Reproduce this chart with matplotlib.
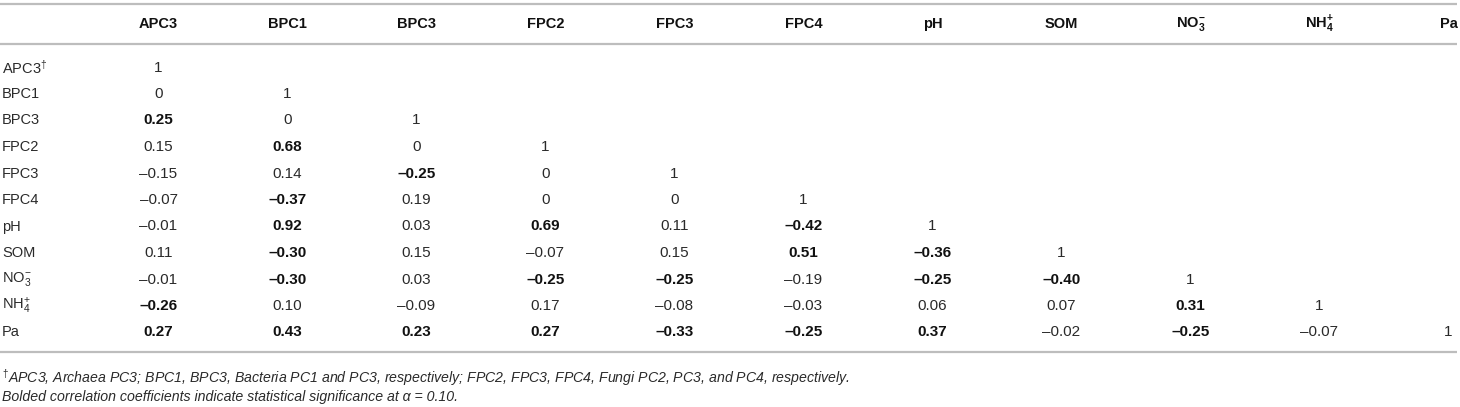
import matplotlib
matplotlib.use("Agg")
import matplotlib.pyplot as plt

plt.rcParams['font.family'] = ['Liberation Sans', 'DejaVu Sans']
plt.rcParams['mathtext.fontset'] = 'custom'
plt.rcParams['mathtext.rm'] = 'Liberation Sans'
plt.rcParams['mathtext.it'] = 'Liberation Sans:italic'
plt.rcParams['mathtext.bf'] = 'Liberation Sans:bold'
plt.rcParams['mathtext.sf'] = 'Liberation Sans'

# ---- data ----
col_labels = ["APC3", "BPC1", "BPC3", "FPC2", "FPC3", "FPC4", "pH", "SOM",
              r"NO$_\mathbf{3}^{\mathbf{-}}$", r"NH$_\mathbf{4}^{\mathbf{+}}$", "Pa"]
row_labels = [r"APC3$^{\dagger}$", "BPC1", "BPC3", "FPC2", "FPC3", "FPC4", "pH", "SOM",
              r"NO$_3^{-}$", r"NH$_4^{+}$", "Pa"]

r_apc3 = [1]
r_bpc1 = [0, 1]
r_bpc3 = [0.25, 0, 1]
r_fpc2 = [0.15, 0.68, 0, 1]
r_fpc3 = [-0.15, 0.14, -0.25, 0, 1]
r_fpc4 = [-0.07, -0.37, 0.19, 0, 0, 1]
r_ph = [-0.01, 0.92, 0.03, 0.69, 0.11, -0.42, 1]
r_som = [0.11, -0.30, 0.15, -0.07, 0.15, 0.51, -0.36, 1]
r_no3 = [-0.01, -0.30, 0.03, -0.25, -0.25, -0.19, -0.25, -0.40, 1]
r_nh4 = [-0.26, 0.10, -0.09, 0.17, -0.08, -0.03, 0.06, 0.07, 0.31, 1]
r_pa = [0.27, 0.43, 0.23, 0.27, -0.33, -0.25, 0.37, -0.02, -0.25, -0.07, 1]
values = [r_apc3, r_bpc1, r_bpc3, r_fpc2, r_fpc3, r_fpc4, r_ph, r_som, r_no3, r_nh4, r_pa]

b_apc3 = [0]
b_bpc1 = [0, 0]
b_bpc3 = [1, 0, 0]
b_fpc2 = [0, 1, 0, 0]
b_fpc3 = [0, 0, 1, 0, 0]
b_fpc4 = [0, 1, 0, 0, 0, 0]
b_ph = [0, 1, 0, 1, 0, 1, 0]
b_som = [0, 1, 0, 0, 0, 1, 1, 0]
b_no3 = [0, 1, 0, 1, 1, 0, 1, 1, 0]
b_nh4 = [1, 0, 0, 0, 0, 0, 0, 0, 1, 0]
b_pa = [1, 1, 1, 1, 1, 1, 1, 0, 1, 0, 0]
bold = [b_apc3, b_bpc1, b_bpc3, b_fpc2, b_fpc3, b_fpc4, b_ph, b_som, b_no3, b_nh4, b_pa]

footnote1 = (r"$^{\dagger}$APC3, Archaea PC3; BPC1, BPC3, Bacteria PC1 and PC3, respectively; "
             "FPC2, FPC3, FPC4, Fungi PC2, PC3, and PC4, respectively.")
footnote2 = "Bolded correlation coefficients indicate statistical significance at α = 0.10."


def fmt(v):
    if v == 1:
        return "1"
    if v == 0:
        return "0"
    s = f"{abs(v):.2f}"
    return ("\u2013" + s) if v < 0 else s


# ---- layout ----
W, H = 1460, 407
fig = plt.figure(figsize=(W / 100, H / 100), dpi=100)
ax = fig.add_axes([0, 0, 1, 1])
ax.set_xlim(0, W)
ax.set_ylim(H, 0)
ax.axis("off")

txt = "#2a2a2a"
line_c = "#bdbdbd"
fs = 10.5
fs_val = 11

x0, dx = 158.5, 129
y_head = 24
y0, dy = 67.5, 26.5

for y in (4, 44, 352):
    ax.plot([0, 1457], [y, y], color=line_c, lw=1.6, solid_capstyle="butt")

for j, lab in enumerate(col_labels):
    ax.text(x0 + j * dx, y_head, lab, ha="center", va="center", fontsize=fs,
            fontweight="bold", color="#111111")

for i, lab in enumerate(row_labels):
    y = y0 + i * dy
    ax.text(2, y, lab, ha="left", va="center", fontsize=fs, color=txt)
    for j, v in enumerate(values[i]):
        ax.text(x0 + j * dx, y, fmt(v), ha="center", va="center", fontsize=fs_val,
                fontweight="bold" if bold[i][j] else "normal",
                color="#111111" if bold[i][j] else txt)

ax.text(2, 378, footnote1, ha="left", va="center", fontsize=10.2, style="italic", color=txt)
ax.text(2, 397, footnote2, ha="left", va="center", fontsize=10.2, style="italic", color=txt)

fig.savefig("out.png", dpi=100)
